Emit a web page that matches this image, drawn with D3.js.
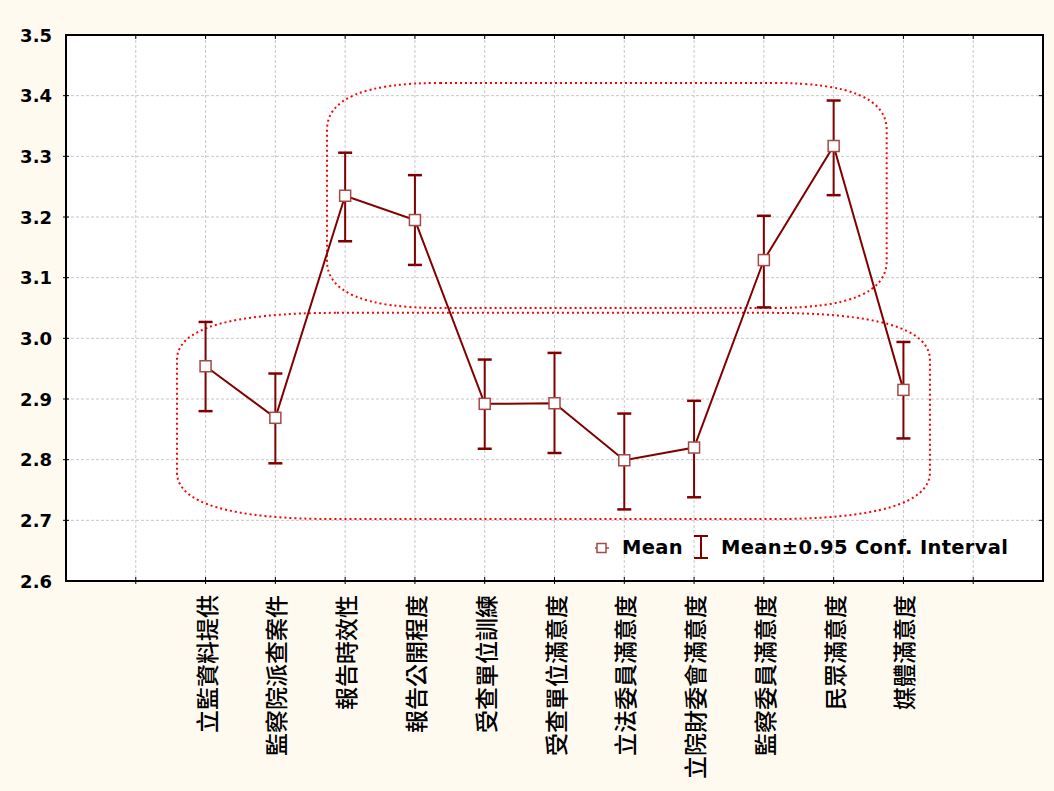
<!DOCTYPE html>
<html>
<head>
<meta charset="utf-8">
<script src="https://cdn.jsdelivr.net/npm/d3@7"></script>
<style>
  html, body { margin: 0; padding: 0; background: #fffaf0; }
  svg { display: block; }
</style>
</head>
<body>
<div id="chart"></div>
<script>
// categories and values
const categories = ["立監資料提供", "監察院派查案件", "報告時效性", "報告公開程度", "受查單位訓練",
    "受查單位滿意度", "立法委員滿意度", "立院財委會滿意度", "監察委員滿意度", "民眾滿意度", "媒體滿意度"];
const means  = [2.954, 2.869, 3.235, 3.195, 2.892, 2.893, 2.799, 2.820, 3.129, 3.317, 2.915];
const ciLow  = [2.880, 2.794, 3.160, 3.121, 2.818, 2.811, 2.718, 2.738, 3.051, 3.236, 2.835];
const ciHigh = [3.027, 2.942, 3.306, 3.269, 2.965, 2.976, 2.876, 2.897, 3.202, 3.392, 2.994];
const yTicks = [2.6, 2.7, 2.8, 2.9, 3.0, 3.1, 3.2, 3.3, 3.4, 3.5];
// circled groups: [slotLeft, slotRight], [valueTop, valueBottom]
const groupsX = [[3.74, 11.76], [1.59, 12.38]];
const groupsY = [[3.421, 3.050], [3.042, 2.702]];
const legendLabels = ["Mean", "Mean±0.95 Conf. Interval"];

const width = 1054, height = 791;
const pLeft = 66, pRight = 1043, pTop = 35, pBottom = 581;
const slots = categories.length + 3;

const svg = d3.select("#chart").append("svg")
    .attr("width", width).attr("height", height);

let x = d3.scaleLinear().domain([0, slots]).range([pLeft, pRight]);
let y = d3.scaleLinear().domain([2.6, 3.5]).range([pBottom, pTop]);
let cx = i => x(i + 2);

svg.append("rect").attr("width", width).attr("height", height).attr("fill", "#fffaf0");
svg.append("rect")
    .attr("x", pLeft).attr("y", pTop)
    .attr("width", pRight - pLeft).attr("height", pBottom - pTop)
    .attr("fill", "#ffffff");

// grid
let grid = svg.append("g").attr("stroke", "#c8c8c8").attr("stroke-width", 1)
    .attr("stroke-dasharray", "3,2");
grid.selectAll(".hg").data(yTicks.slice(1, -1)).enter().append("line")
    .attr("x1", pLeft).attr("x2", pRight)
    .attr("y1", d => y(d)).attr("y2", d => y(d));
grid.selectAll(".vg").data(d3.range(1, slots)).enter().append("line")
    .attr("y1", pTop).attr("y2", pBottom)
    .attr("x1", d => x(d)).attr("x2", d => x(d));

// ticks
let ticks = svg.append("g").attr("stroke", "#000").attr("stroke-width", 1);
yTicks.slice(1, -1).forEach(v => {
    ticks.append("line").attr("x1", pLeft - 3).attr("x2", pLeft + 3).attr("y1", y(v)).attr("y2", y(v));
    ticks.append("line").attr("x1", pRight - 4).attr("x2", pRight).attr("y1", y(v)).attr("y2", y(v));
});
d3.range(1, slots).forEach(s => {
    ticks.append("line").attr("x1", x(s)).attr("x2", x(s)).attr("y1", pTop).attr("y2", pTop + 4);
    ticks.append("line").attr("x1", x(s)).attr("x2", x(s)).attr("y1", pBottom - 4).attr("y2", pBottom + 3);
});

// dotted group outlines
function roundBox(x0, x1, y0, y1, rx, ry) {
    let p = d3.path();
    p.moveTo(x0 + rx, y0);
    p.lineTo(x1 - rx, y0);
    p.quadraticCurveTo(x1, y0, x1, y0 + ry);
    p.lineTo(x1, y1 - ry);
    p.quadraticCurveTo(x1, y1, x1 - rx, y1);
    p.lineTo(x0 + rx, y1);
    p.quadraticCurveTo(x0, y1, x0, y1 - ry);
    p.lineTo(x0, y0 + ry);
    p.quadraticCurveTo(x0, y0, x0 + rx, y0);
    p.closePath();
    return p.toString();
}
let radii = [[113, 47], [160, 47]];
svg.append("g").selectAll("path").data(groupsX).enter().append("path")
    .attr("d", (g, i) => roundBox(x(g[0]), x(g[1]), y(groupsY[i][0]), y(groupsY[i][1]), radii[i][0], radii[i][1]))
    .attr("fill", "none")
    .attr("stroke", "#ff0000")
    .attr("stroke-width", 2)
    .attr("stroke-dasharray", "2,3");

// mean line
let line = d3.line().x((d, i) => cx(i)).y(d => y(d));
svg.append("path").datum(means)
    .attr("d", line)
    .attr("fill", "none")
    .attr("stroke", "#800000")
    .attr("stroke-width", 2);

// error bars
let bars = svg.append("g").attr("stroke", "#800000").attr("stroke-width", 2.5);
means.forEach((m, i) => {
    bars.append("line").attr("x1", cx(i)).attr("x2", cx(i)).attr("y1", y(ciLow[i])).attr("y2", y(ciHigh[i]))
        .attr("stroke-width", 2);
    bars.append("line").attr("x1", cx(i) - 7).attr("x2", cx(i) + 7).attr("y1", y(ciLow[i])).attr("y2", y(ciLow[i]));
    bars.append("line").attr("x1", cx(i) - 7).attr("x2", cx(i) + 7).attr("y1", y(ciHigh[i])).attr("y2", y(ciHigh[i]));
});

// markers
svg.append("g").selectAll("rect").data(means).enter().append("rect")
    .attr("x", (d, i) => cx(i) - 5.5)
    .attr("y", d => y(d) - 5.5)
    .attr("width", 11).attr("height", 11)
    .attr("fill", "#ffffff")
    .attr("stroke", "#a54848")
    .attr("stroke-width", 1.5);

// frame
svg.append("rect")
    .attr("x", pLeft).attr("y", pTop)
    .attr("width", pRight - pLeft).attr("height", pBottom - pTop)
    .attr("fill", "none").attr("stroke", "#000").attr("stroke-width", 2);

// y labels
svg.append("g").selectAll("text").data(yTicks).enter().append("text")
    .attr("x", 52)
    .attr("y", d => y(d) + 6.5)
    .attr("text-anchor", "end")
    .attr("font-family", "DejaVu Sans, Verdana, sans-serif")
    .attr("font-weight", "bold")
    .attr("font-size", "18px")
    .text(d => d.toFixed(1));

// x labels
svg.append("g").selectAll("text").data(categories).enter().append("text")
    .attr("transform", (d, i) => `translate(${cx(i)},595) rotate(-90)`)
    .attr("text-anchor", "end")
    .attr("dominant-baseline", "central")
    .attr("font-family", "Noto Sans CJK TC, sans-serif")
    .attr("font-size", "23px")
    .attr("font-weight", 500)
    .attr("fill", "#000")
    .text(d => d);

// legend
let lg = svg.append("g");
lg.append("line").attr("x1", 595).attr("x2", 609).attr("y1", 548).attr("y2", 548)
    .attr("stroke", "#a54848").attr("stroke-width", 1.5);
lg.append("rect").attr("x", 597).attr("y", 543.5).attr("width", 9).attr("height", 9)
    .attr("fill", "#fff").attr("stroke", "#a54848").attr("stroke-width", 1.5);
lg.append("line").attr("x1", 701).attr("x2", 701).attr("y1", 536).attr("y2", 558)
    .attr("stroke", "#800000").attr("stroke-width", 2);
lg.append("line").attr("x1", 694).attr("x2", 708).attr("y1", 536).attr("y2", 536)
    .attr("stroke", "#800000").attr("stroke-width", 2);
lg.append("line").attr("x1", 694).attr("x2", 708).attr("y1", 558).attr("y2", 558)
    .attr("stroke", "#800000").attr("stroke-width", 2);
lg.selectAll("text").data(legendLabels).enter().append("text")
    .attr("x", (d, i) => i === 0 ? 622 : 721)
    .attr("y", 554)
    .attr("font-family", "DejaVu Sans, Verdana, sans-serif")
    .attr("font-weight", "bold")
    .attr("font-size", "19.5px")
    .attr("letter-spacing", "0.3px")
    .text(d => d);
</script>
</body>
</html>
